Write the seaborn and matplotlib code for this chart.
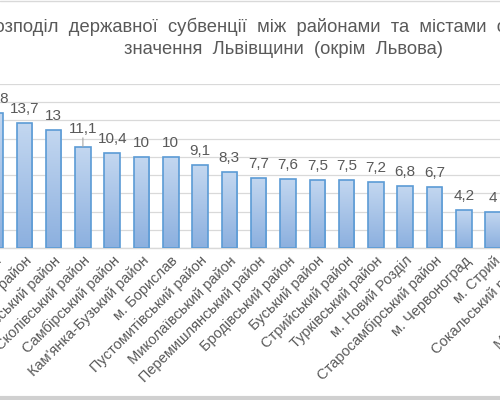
import numpy as np
import pandas as pd
import matplotlib
matplotlib.use("Agg")
import matplotlib.pyplot as plt
import seaborn as sns
from matplotlib.colors import LinearSegmentedColormap

# districts / cities of Lviv oblast, sorted by subvention (the chart is cropped on both sides)
districts = [
    "Яворівський район", "Дрогобицький район", "Жидачівський район",
    "Сколівський район", "Самбірський район", "Кам'янка-Бузький район",
    "м. Борислав", "Пустомитівський район", "Миколаївський район",
    "Перемишлянський район", "Бродівський район", "Буський район",
    "Стрийський район", "Турківський район", "м. Новий Розділ",
    "Старосамбірський район", "м. Червоноград", "м. Стрий",
    "Сокальський район", "м. Моршин", "Мостиський район",
]
subvention = [14.8, 13.7, 13.0, 11.1, 10.4, 10.0, 10.0, 9.1, 8.3, 7.7, 7.6,
              7.5, 7.5, 7.2, 6.8, 6.7, 4.2, 4.0, 3.7, 3.4, 3.3]
value_labels = ["14,8", "13,7", "13", "11,1", "10,4", "10", "10", "9,1", "8,3",
                "7,7", "7,6", "7,5", "7,5", "7,2", "6,8", "6,7", "4,2", "4",
                "3,7", "3,4", "3,3"]
title_lines = ["Розподіл державної субвенції між районами та містами обласного",
               "значення Львівщини (окрім Львова)"]

df = pd.DataFrame({"district": districts, "value": subvention})

sns.set_theme(style="white")
plt.rcParams["font.family"] = ["Liberation Sans", "DejaVu Sans"]
text_col = "#595959"

fig = plt.figure(figsize=(5, 4), dpi=100)
# axes is wider than the figure: the source picture is a crop of a bigger chart
ax = fig.add_axes([-0.0393, 0.38, 1.2306, 0.41])

sns.barplot(data=df, x="district", y="value", ax=ax, width=0.53,
            color="#a9c4ea", edgecolor="#5b9bd5", linewidth=1.2, zorder=3)

# vertical gradient fill like the Excel bars
grad = LinearSegmentedColormap.from_list("bar", ["#8cb0df", "#c3d7f0"])
g = np.linspace(0, 1, 64).reshape(-1, 1)
for p in ax.patches:
    x0, w, h = p.get_x(), p.get_width(), p.get_height()
    im = ax.imshow(g, cmap=grad, origin="lower", aspect="auto",
                   extent=[x0, x0 + w, 0, h], zorder=2.9)
    im.set_clip_path(p)
    p.set_facecolor("none")

ax.set_xlim(-0.5, len(districts) - 0.5)
ax.set_ylim(0, 18)
ax.set_yticks(np.arange(0, 19, 2))
ax.set_yticklabels([])
ax.tick_params(axis="y", length=0)
ax.yaxis.grid(True, color="#d9d9d9", linewidth=0.9, zorder=0)
for s in ["left", "right", "top"]:
    ax.spines[s].set_visible(False)
ax.spines["bottom"].set_color("#d9d9d9")
ax.spines["bottom"].set_linewidth(1.0)

ax.set_xlabel("")
ax.set_ylabel("")
ax.tick_params(axis="x", length=0, pad=4)
ax.set_xticks(range(len(districts)))
ax.set_xticklabels(districts, rotation=45, ha="right", rotation_mode="anchor",
                   fontsize=10.5, color=text_col)

for i, (v, lab) in enumerate(zip(subvention, value_labels)):
    off = 5 if i != 3 else 8
    ax.annotate(lab, (i, v), xytext=(0, off), textcoords="offset points",
                ha="center", va="bottom", fontsize=11, color=text_col,
                annotation_clip=False)
# leader line of the moved "11,1" label
ax.annotate("", (3, subvention[3]), xytext=(0, 6.5), textcoords="offset points",
            arrowprops=dict(arrowstyle="-", color="#a6a6a6", lw=0.8, shrinkA=0, shrinkB=0))

# the Excel title has wide word gaps
for line, y in zip(title_lines, [0.933, 0.875]):
    fig.text(0.566, y, "  ".join(line.split()), ha="center", va="center",
             fontsize=13.2, color=text_col)

# chart-area border visible at top and bottom of the crop
fig.add_artist(plt.Line2D([0, 1], [0.998, 0.998], color="#d9d9d9", lw=1.0))
fig.add_artist(plt.Line2D([0, 1], [0.004, 0.004], color="#d0d0d0", lw=3.0))

fig.savefig("out.png", dpi=100)
